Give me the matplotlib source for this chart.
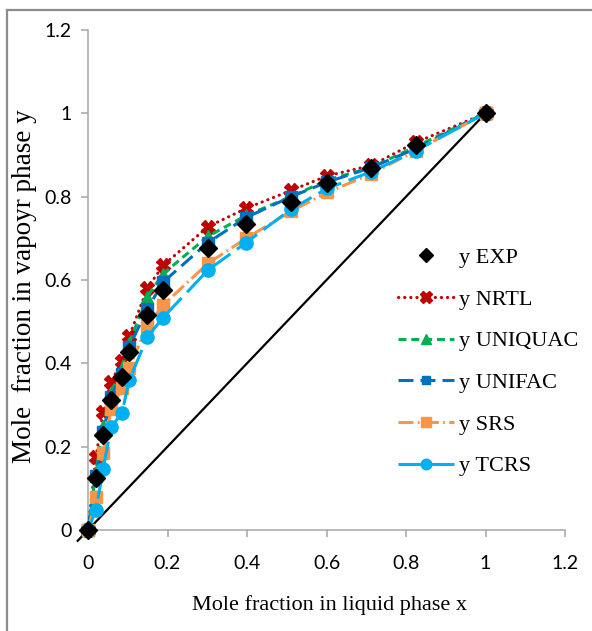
import matplotlib
matplotlib.use("Agg")
import matplotlib.pyplot as plt
from matplotlib.lines import Line2D

# liquid phase mole fraction (same x for all series)
x = [0, 0.02, 0.038, 0.058, 0.085, 0.104, 0.149, 0.189, 0.302, 0.398, 0.511, 0.602, 0.713, 0.824, 1.0]

y_exp = [0, 0.125, 0.228, 0.312, 0.367, 0.427, 0.516, 0.576, 0.676, 0.734, 0.787, 0.832, 0.868, 0.925, 1.0]
y_nrtl = [0, 0.175, 0.283, 0.355, 0.405, 0.465, 0.58, 0.635, 0.728, 0.772, 0.815, 0.85, 0.875, 0.93, 1.0]
y_uniquac = [0, 0.14, 0.25, 0.33, 0.39, 0.45, 0.56, 0.615, 0.705, 0.755, 0.80, 0.84, 0.87, 0.92, 1.0]
y_unifac = [0, 0.13, 0.235, 0.32, 0.375, 0.44, 0.53, 0.595, 0.69, 0.75, 0.80, 0.835, 0.87, 0.915, 1.0]
y_srs = [0, 0.08, 0.185, 0.29, 0.34, 0.39, 0.49, 0.54, 0.64, 0.70, 0.765, 0.81, 0.855, 0.91, 1.0]
y_tcrs = [0, 0.048, 0.146, 0.247, 0.28, 0.36, 0.463, 0.51, 0.624, 0.69, 0.77, 0.82, 0.86, 0.91, 1.0]

diag = [-0.026, 1.0]

W, H = 592, 631
fig = plt.figure(figsize=(W / 100, H / 100), dpi=100)
ax = fig.add_axes([88 / W, 1 - 530 / H, (565 - 88) / W, 500 / H])

ax.plot(diag, diag, color="black", lw=1.6, clip_on=False, zorder=2)

series = [
    ("y NRTL", y_nrtl, "#C00000", "X", (0, (0.1, 1.9)), 10),
    ("y UNIQUAC", y_uniquac, "#00B050", "^", (0, (2.6, 1.6)), 9),
    ("y UNIFAC", y_unifac, "#0070C0", "s", (0, (4.9, 2.3)), 8),
    ("y SRS", y_srs, "#F79646", "s", (0, (4.9, 1.4, 0.6, 1.4)), 8.5),
    ("y TCRS", y_tcrs, "#00B0F0", "o", (0, (8.2, 2.6)), 9.5),
]
handles = []
for i, (lab, ys, col, mk, ls, ms) in enumerate(series):
    h, = ax.plot(x, ys, color=col, marker=mk, ls=ls, lw=2.2, ms=ms,
                 mec=col, mfc=col, dash_capstyle="round" if mk == "X" else "butt",
                 clip_on=False, zorder=3 + i, label=lab)
    handles.append(h)
h_exp, = ax.plot(x, y_exp, ls="none", marker="D", color="black", ms=9.5,
                 clip_on=False, zorder=10, label="y EXP")
handles.insert(0, h_exp)

ax.set_xlim(0, 1.2)
ax.set_ylim(0, 1.2)
ticks = [0, 0.2, 0.4, 0.6, 0.8, 1.0, 1.2]
ticklabels = ["0", "0.2", "0.4", "0.6", "0.8", "1", "1.2"]
ax.set_xticks(ticks)
ax.set_xticklabels(ticklabels)
ax.set_yticks(ticks)
ax.set_yticklabels(ticklabels)

for s in ["top", "right"]:
    ax.spines[s].set_visible(False)
for s in ["left", "bottom"]:
    ax.spines[s].set_color("#A6A6A6")
    ax.spines[s].set_linewidth(1.1)
ax.tick_params(axis="both", direction="out", length=5, width=1.1, color="#A6A6A6",
               labelsize=14, labelcolor="black")
ax.tick_params(axis="x", pad=13)
ax.tick_params(axis="y", pad=7)
for t in ax.get_xticklabels() + ax.get_yticklabels():
    t.set_fontfamily("Lato")

serif = "Liberation Serif"
fig.text(329 / W, 1 - 605 / H, "Mole fraction in liquid phase x", ha="center", va="center",
         fontsize=16, family=serif)
fig.text(25 / W, 1 - 286 / H, "Mole  fraction in vapoyr phase y", ha="center", va="center",
         rotation=90, fontsize=19.5, family=serif)

ax.legend(handles=handles, loc="center left", bbox_to_anchor=(398 / W, 1 - 362 / H),
          bbox_transform=fig.transFigure, frameon=False, borderpad=0, borderaxespad=0,
          handlelength=2.5, handletextpad=0.25, labelspacing=0.95, markerscale=0.8,
          prop={"family": serif, "size": 16})

# frame of the original screenshot
fig.add_artist(Line2D([7 / W, 7 / W], [0, 1 - 10 / H], transform=fig.transFigure,
                      color="#8C8C8C", lw=1.6))
fig.add_artist(Line2D([7 / W, 1], [1 - 10 / H, 1 - 10 / H], transform=fig.transFigure,
                      color="#8C8C8C", lw=1.6))

fig.savefig("out.png", dpi=100)
